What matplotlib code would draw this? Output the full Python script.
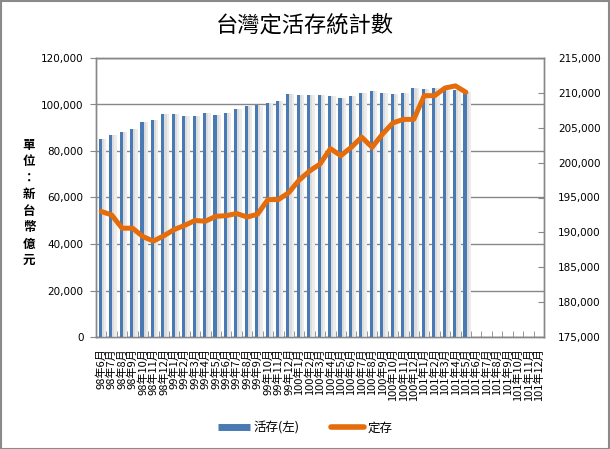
import matplotlib
matplotlib.use("Agg")
import matplotlib.pyplot as plt
from matplotlib.lines import Line2D
from matplotlib.patches import Rectangle
from matplotlib.ticker import FuncFormatter, FixedLocator
import numpy as np

plt.rcParams['font.family'] = ['Noto Sans CJK TC', 'DejaVu Sans']

# Categories: 98年6月 .. 101年12月
months = ([(98, m) for m in range(6, 13)] + [(99, m) for m in range(1, 13)] +
          [(100, m) for m in range(1, 13)] + [(101, m) for m in range(1, 13)])
categories = [f"{y}年{m}月" for y, m in months]

# 活存 (left axis) values, 98年6月 .. 101年5月
demand = [85200, 86900, 88200, 89500, 92500, 93400, 96000, 96000, 95100, 95100,
          96400, 95500, 96400, 98100, 99400, 99900, 100700, 101600, 104600, 104200,
          104200, 104200, 103700, 102900, 103700, 105000, 105900, 105000, 104600, 105000,
          107200, 106800, 107200, 106300, 106300, 105500]

# 定存 (right axis) values
time_dep = [193000, 192500, 190600, 190600, 189400, 188750, 189500, 190400, 191000, 191700,
            191600, 192300, 192400, 192700, 192200, 192600, 194700, 194700, 195700, 197500,
            198800, 199800, 202000, 201000, 202200, 203650, 202200, 204100, 205700, 206200,
            206200, 209600, 209600, 210700, 211000, 210100]

left_ticks = [0, 20000, 40000, 60000, 80000, 100000, 120000]
right_ticks = [175000, 180000, 185000, 190000, 195000, 200000, 205000, 210000, 215000]

blue = '#4A7AB4'
orange = '#E46C0A'
grid_c = '#878787'

fig = plt.figure(figsize=(6.10, 4.49), dpi=100)
ax = fig.add_axes([96/610, 1-337/449, (544-96)/610, (337-58)/449])
ax2 = ax.twinx()

n = len(categories)
x = np.arange(n)
xd = np.arange(len(demand))

ax.set_zorder(1)
ax.patch.set_visible(False)
ax2.set_zorder(0)

# bars with light shadow
ax.bar(xd + 0.22, demand, width=0.55, color='#ececec', zorder=2, linewidth=0)
ax.bar(xd + 0.12, demand, width=0.30, color='#dcdcdc', zorder=2.5, linewidth=0)
ax.bar(xd - 0.08, demand, width=0.30, color=blue, zorder=3, linewidth=0)

ax.set_ylim(0, 120000)
ax.set_xlim(-0.5, n - 0.5)
ax.set_yticks(left_ticks)
ax.yaxis.set_major_formatter(FuncFormatter(lambda v, p: f"{int(v):,}"))
ax.grid(axis='y', color=grid_c, linewidth=1.0, zorder=1)
ax.set_axisbelow(True)
ax.tick_params(axis='y', direction='out', length=4, color=grid_c, labelsize=7.5, pad=5)
for lbl in ax.get_yticklabels():
    lbl.set_family('DejaVu Sans')

ax.set_xticks(x)
ax.set_xticklabels(categories, rotation=90, fontsize=8)
ax.tick_params(axis='x', which='major', length=0, pad=8)
ax.xaxis.set_minor_locator(FixedLocator(np.arange(-0.5, n, 1.0)))
ax.tick_params(axis='x', which='minor', direction='in', length=4, color=grid_c)

ax2.set_ylim(175000, 215000)
ax2.set_yticks(right_ticks)
ax2.yaxis.set_major_formatter(FuncFormatter(lambda v, p: f"{int(v):,}"))
ax2.tick_params(axis='y', direction='in', length=4, color=grid_c, labelsize=7.5, pad=10)
for lbl in ax2.get_yticklabels():
    lbl.set_family('DejaVu Sans')

# 定存 line belongs to the right axis; drawn on ax in right-axis units mapped to keep it above bars
scale = 120000 / (215000 - 175000)
ax.plot(xd, [(v - 175000) * scale for v in time_dep], color=orange, linewidth=3.6,
        solid_joinstyle='round', solid_capstyle='round', zorder=5)

for a in (ax, ax2):
    for s in a.spines.values():
        s.set_color(grid_c)
        s.set_linewidth(1.0)

fig.text(0.5, 1 - 25/449, '台灣定活存統計數', ha='center', va='center', fontsize=16)
fig.text(29/610, 1 - 203/449, '\n'.join('單位：新台幣億元'), ha='center', va='center',
         fontsize=9, fontweight='bold', linespacing=1.35)

handles = [Line2D([0], [0], color=blue, linewidth=5, solid_capstyle='butt'),
           Line2D([0], [0], color=orange, linewidth=4, solid_capstyle='round')]
fig.legend(handles, ['活存(左)', '定存'], loc='center', bbox_to_anchor=(0.5, 1 - 428/449),
           ncol=2, frameon=False, fontsize=9, handlelength=2.6, columnspacing=2.5,
           handletextpad=0.3)

fig.patches.append(Rectangle((0.001, 0.001), 0.997, 0.997, transform=fig.transFigure,
                             fill=False, edgecolor='#8a8a8a', linewidth=1.5))

fig.savefig('out.png', dpi=100)
